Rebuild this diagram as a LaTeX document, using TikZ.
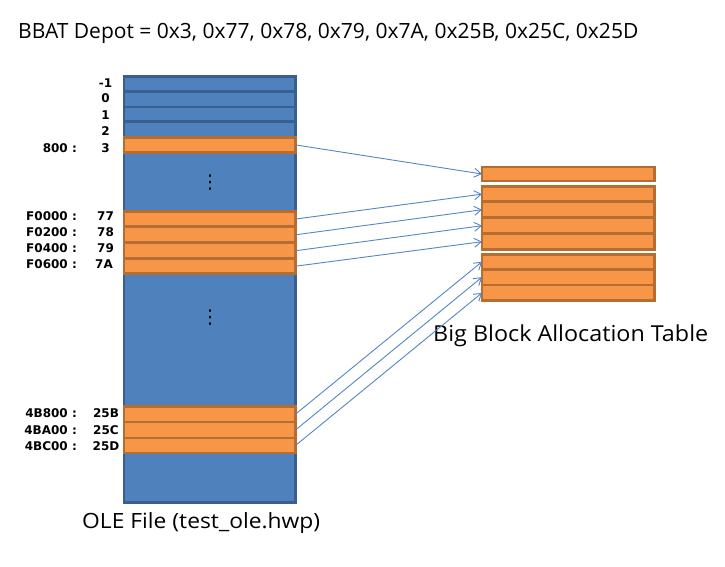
\documentclass[tikz,border=0pt]{standalone}
\usepackage{fontspec}
\usepackage{graphicx}
\setmainfont{Open Sans}
\newfontfamily\lblfont{DejaVu Sans}
\usetikzlibrary{arrows.meta}
\definecolor{bfill}{HTML}{4F81BD}
\definecolor{bline}{HTML}{3A5F8E}
\definecolor{ofill}{HTML}{F79646}
\definecolor{oline}{HTML}{B66D31}
\definecolor{arrc}{HTML}{5585C4}
\begin{document}
\begin{tikzpicture}[x=1pt,y=-1pt,
  column/.style={draw=bline,fill=bfill,line width=2.5pt,inner sep=0pt,outer sep=0pt,minimum width=171.5pt},
  brow/.style={draw=bline,fill=bfill,line width=2.4pt,inner sep=0pt,outer sep=0pt,minimum width=171.5pt},
  orow/.style={draw=oline,fill=ofill,line width=2.8pt,inner sep=0pt,outer sep=0pt,minimum width=171.5pt},
  trow/.style={draw=oline,fill=ofill,line width=2.8pt,inner sep=0pt,outer sep=0pt,minimum width=172.7pt},
  lbl/.style={inner sep=0pt,font=\lblfont\bfseries\fontsize{12}{14}\selectfont},
  big/.style={inner sep=0pt,anchor=base west},
  arr/.style={draw=arrc,line width=0.9pt,-{Straight Barb[length=7pt,width=9pt,line width=0.9pt]}},
  dots/.style={inner sep=0pt,font=\lblfont\fontsize{19}{19}\selectfont}]
\useasboundingbox (0,0) rectangle (725,567);
% title
\node[big] (title) at (18,38.3) {\fontsize{21}{25}\selectfont\resizebox{620pt}{\height}{BBAT Depot = 0x3, 0x77, 0x78, 0x79, 0x7A, 0x25B, 0x25C, 0x25D}};
% OLE column
\node[column,minimum height=425.6pt] (ole) at (209.75,289.5) {};
\node[brow,minimum height=15pt] (rm1) at (209.75,84.2) {};
\node[brow,minimum height=15.5pt] (r0) at (209.75,99.45) {};
\node[brow,minimum height=14.3pt] (r1) at (209.75,114.35) {};
\node[brow,minimum height=16pt] (r2) at (209.75,129.5) {};
\node[orow,minimum height=14.8pt] (r3) at (209.75,144.9) {};
\node[orow,minimum height=15.5pt] (r77) at (209.75,219.05) {};
\node[orow,minimum height=16pt] (r78) at (209.75,234.8) {};
\node[orow,minimum height=15.9pt] (r79) at (209.75,250.75) {};
\node[orow,minimum height=15pt] (r7A) at (209.75,266.2) {};
\node[orow,minimum height=15.7pt] (r25B) at (209.75,414.15) {};
\node[orow,minimum height=16pt] (r25C) at (209.75,430) {};
\node[orow,minimum height=15pt] (r25D) at (209.75,445.5) {};
\node[dots] (d1) at (210,182.3) {⋮};
\node[dots] (d2) at (210,317.3) {⋮};
% labels
\node[lbl,anchor=base] (lm1) at (105.5,87.3) {-1};
\node[lbl,anchor=base] (l0) at (105.5,102.7) {0};
\node[lbl,anchor=base] (l1) at (105.5,119.3) {1};
\node[lbl,anchor=base] (l2) at (105.5,135.3) {2};
\node[lbl,anchor=base] (l3) at (105.5,152) {3};
\node[lbl,anchor=base east] (a3) at (77,152) {800 :};
\node[lbl,anchor=base] (l77) at (105.5,220) {77};
\node[lbl,anchor=base] (l78) at (105.5,236) {78};
\node[lbl,anchor=base] (l79) at (105.5,252.3) {79};
\node[lbl,anchor=base] (l7A) at (104,268.3) {7A};
\node[lbl,anchor=base east] (a77) at (77,220) {F0000 :};
\node[lbl,anchor=base east] (a78) at (77,236) {F0200 :};
\node[lbl,anchor=base east] (a79) at (77,252.3) {F0400 :};
\node[lbl,anchor=base east] (a7A) at (77,268.3) {F0600 :};
\node[lbl,anchor=base] (l25B) at (106,417.7) {25B};
\node[lbl,anchor=base] (l25C) at (106,434) {25C};
\node[lbl,anchor=base] (l25D) at (106,450) {25D};
\node[lbl,anchor=base east] (a25B) at (77,417.7) {4B800 :};
\node[lbl,anchor=base east] (a25C) at (77,434) {4BA00 :};
\node[lbl,anchor=base east] (a25D) at (77,450) {4BC00 :};
\node[big] (olelbl) at (82,528) {\fontsize{21}{25}\selectfont\resizebox{238pt}{\height}{OLE File (test\_ole.hwp)}};
% BBAT
\node[trow,minimum height=14pt] (b1) at (568.35,174) {};
\node[trow,minimum height=15.3pt] (b2) at (568.35,194.15) {};
\node[trow,minimum height=15.9pt] (b3) at (568.35,209.75) {};
\node[trow,minimum height=16pt] (b4) at (568.35,225.7) {};
\node[trow,minimum height=16pt] (b5) at (568.35,241.7) {};
\node[trow,minimum height=15.1pt] (b6) at (568.35,261.75) {};
\node[trow,minimum height=15.7pt] (b7) at (568.35,277.15) {};
\node[trow,minimum height=15.7pt] (b8) at (568.35,292.85) {};
\node[big] (bbatlbl) at (433,341) {\fontsize{22}{26}\selectfont\resizebox{275pt}{\height}{Big Block Allocation Table}};
% arrows
\draw[arr] (r3.east) -- (b1.west);
\draw[arr] (r77.east) -- (b2.west);
\draw[arr] (r78.east) -- (b3.west);
\draw[arr] (r79.east) -- (b4.west);
\draw[arr] (r7A.east) -- (b5.west);
\draw[arr] (r25B.east) -- (b6.west);
\draw[arr] (r25C.east) -- (b7.west);
\draw[arr] (r25D.east) -- (b8.west);
\end{tikzpicture}
\end{document}
